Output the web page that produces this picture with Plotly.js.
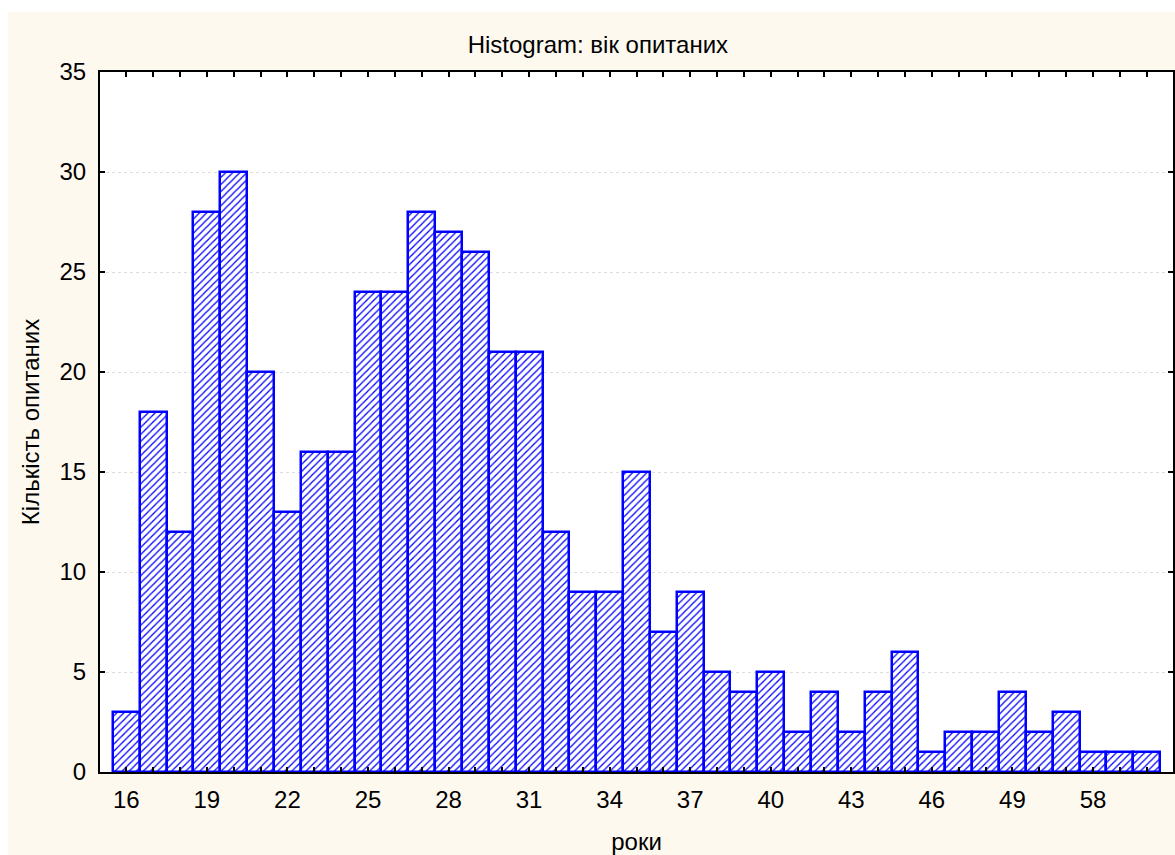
<!DOCTYPE html>
<html>
<head>
<meta charset="utf-8">
<script src="https://cdn.plot.ly/plotly-3.0.1.min.js"></script>
<style>
  body { margin: 0; background: #ffffff; }
  #chart { position: absolute; left: 8px; top: 12px; width: 1167px; height: 843px; }
</style>
</head>
<body>
<div id="chart"></div>
<script>
// ages (categories) and counts
const ages = ['16', '17', '18', '19', '20', '21', '22', '23', '24', '25', '26', '27', '28',
  '29', '30', '31', '32', '33', '34', '35', '36', '37', '38', '39', '40', '41', '42', '43',
  '44', '45', '46', '47', '48', '49', '50', '52', '58', '60', '63'];
const counts = [3, 18, 12, 28, 30, 20, 13, 16, 16, 24, 24, 28, 27, 26, 21, 21, 12, 9, 9, 15,
  7, 9, 5, 4, 5, 2, 4, 2, 4, 6, 1, 2, 2, 4, 2, 3, 1, 1, 1];
const shownLabels = ['16', '19', '22', '25', '28', '31', '34', '37', '40', '43', '46', '49', '58'];

const font = { family: 'Liberation Sans, Arial, sans-serif', size: 24, color: '#000000' };

Plotly.newPlot('chart', [{
  type: 'bar',
  x: ages,
  y: counts,
  marker: {
    color: '#ffffff',
    line: { color: '#0000ff', width: 2.5 },
    pattern: { shape: '/', fgcolor: '#0000ff', bgcolor: '#ffffff', size: 5, solidity: 0.25 },
  },
  hoverinfo: 'x+y',
}], {
  width: 1167,
  height: 843,
  paper_bgcolor: '#fdf9ef',
  plot_bgcolor: '#ffffff',
  margin: { l: 92, r: 2, t: 60, b: 83 },
  bargap: 0,
  font,
  showlegend: false,
  title: {
    text: 'Histogram: вік опитаних',
    font,
    xref: 'paper',
    x: 0.464,
    xanchor: 'center',
    yref: 'container',
    y: 0.961,
    yanchor: 'middle',
  },
  xaxis: {
    type: 'category',
    range: [-0.98, 38.98],
    tickvals: ages,
    ticktext: ages.map(a => (shownLabels.includes(a) ? a : '')),
    ticks: 'inside',
    ticklen: 5,
    tickwidth: 1.5,
    tickcolor: '#000000',
    showline: true,
    linecolor: '#000000',
    linewidth: 2,
    mirror: 'allticks',
    showgrid: false,
    zeroline: false,
    ticklabelstandoff: 5,
    tickfont: font,
    title: { text: 'роки', font, standoff: 21 },
  },
  yaxis: {
    range: [0, 35],
    dtick: 5,
    ticks: 'inside',
    ticklen: 5,
    tickwidth: 1.5,
    tickcolor: '#000000',
    showline: true,
    linecolor: '#000000',
    linewidth: 2,
    mirror: 'allticks',
    showgrid: true,
    gridcolor: '#dcdcdc',
    griddash: 'dot',
    gridwidth: 1,
    zeroline: false,
    ticklabelstandoff: 7,
    tickfont: font,
    title: { text: 'Кількість опитаних', font, standoff: 13 },
  },
}, { displayModeBar: false });
</script>
</body>
</html>
